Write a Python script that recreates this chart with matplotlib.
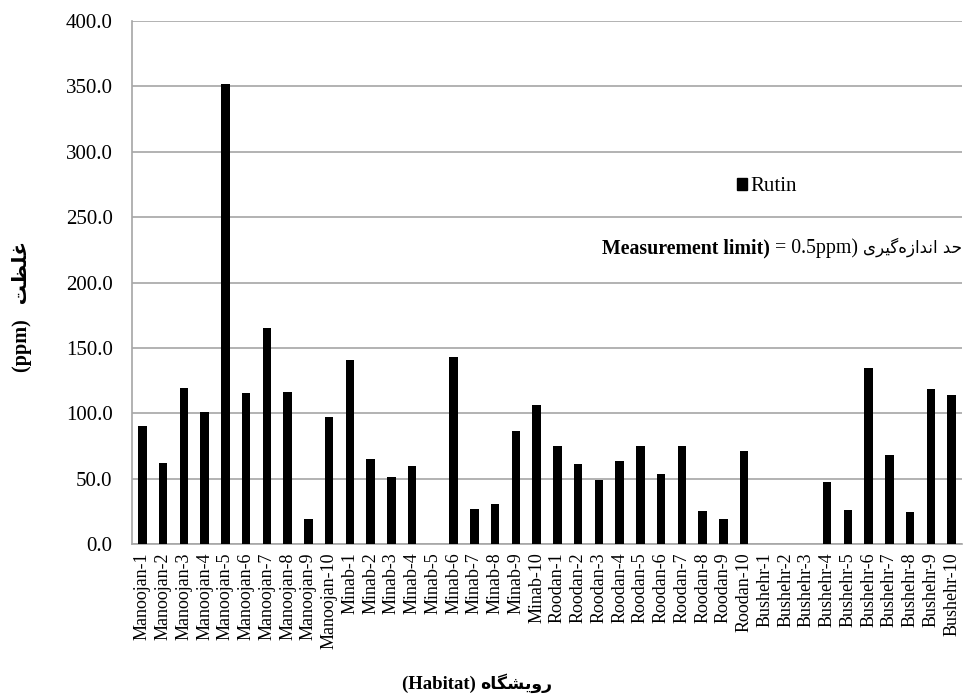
import matplotlib
matplotlib.use('Agg')
import matplotlib.pyplot as plt
from matplotlib.patches import Patch
from matplotlib.offsetbox import TextArea, HPacker, AnnotationBbox

plt.rcParams['font.family'] = ['Liberation Serif', 'DejaVu Sans']

# ── Данные ────────────────────────────────────────────────────────────────────
sites = (['Manoojan-%d' % i for i in range(1, 11)] +
         ['Minab-%d' % i for i in range(1, 11)] +
         ['Roodan-%d' % i for i in range(1, 11)] +
         ['Bushehr-%d' % i for i in range(1, 11)])

rutin = [90.5, 62.2, 119.5, 100.8, 352.0, 115.3, 165.2, 116.4, 19.0, 97.0,
         141.0, 65.3, 51.0, 59.8, 0.0, 142.8, 26.8, 30.6, 86.2, 106.4,
         74.6, 61.5, 49.3, 63.6, 74.6, 53.7, 75.3, 25.1, 19.5, 71.0,
         0.0, 0.0, 0.0, 47.1, 26.0, 134.8, 68.4, 24.3, 118.9, 113.8]

yticks = [0, 50, 100, 150, 200, 250, 300, 350, 400]

# Persian strings, pre-shaped (presentation forms) in visual order
fa_conc = '\uFE96\uFEC8\uFEE0\uFECF'                       # غلظت
fa_habitat = '\uFEE9\uFE8E\uFB95\uFEB8\uFEF3\uFEED\uFEAD'  # رویشگاه
fa_limit = ('\uFEEF\uFEAE\uFEF4\uFB94\uFEE9\uFEAF\uFE8D\uFEAA\uFEE7\uFE8D'
            ' \uFEAA\uFEA3')                               # حد اندازه‌گیری

# ── График ────────────────────────────────────────────────────────────────────
fig = plt.figure(figsize=(9.7, 6.95), dpi=100)
ax = fig.add_axes([132 / 970, 1 - 544 / 695, 830 / 970, 523 / 695])

x = list(range(len(sites)))
ax.bar(x, rutin, width=0.4, color='black', zorder=3)

ax.set_xlim(-0.5, len(sites) - 0.5)
ax.set_ylim(0, 400)
ax.set_yticks(yticks)
ax.set_yticklabels(['%.1f' % v for v in yticks], fontsize=15)
ax.set_xticks(x)
ax.set_xticklabels(sites, rotation=90, fontsize=13)
ax.tick_params(axis='x', length=0, pad=6)
ax.tick_params(axis='y', length=0, pad=14)
ax.grid(axis='y', color='#a6a6a6', lw=1.2, zorder=0)
for s in ['top', 'right']:
    ax.spines[s].set_visible(False)
for s in ['left', 'bottom']:
    ax.spines[s].set_color('#a6a6a6')
    ax.spines[s].set_linewidth(1.2)

ax.legend(handles=[Patch(color='black', label='Rutin')],
          loc='center left', bbox_to_anchor=(0.729, 0.683),
          frameon=False, fontsize=15, handlelength=0.5, handleheight=0.5,
          handletextpad=0.15, borderaxespad=0, borderpad=0)

# Measurement limit text
parts = HPacker(children=[
    TextArea('Measurement limit)', textprops=dict(fontsize=14.3, fontweight='bold')),
    TextArea(' = 0.5ppm) ', textprops=dict(fontsize=14.3)),
    TextArea(fa_limit, textprops=dict(fontsize=12, family='DejaVu Sans')),
], align='baseline', pad=0, sep=0)
fig.add_artist(AnnotationBbox(parts, (962 / 970, 1 - 248 / 695),
                              xycoords='figure fraction',
                              box_alignment=(1, 0.5), frameon=False))

# axis labels
fig.text(22 / 970, 1 - 306 / 695, '(ppm)   ' + fa_conc, rotation=90,
         ha='center', va='center', fontsize=14.5, fontweight='bold')
xl = HPacker(children=[
    TextArea('(Habitat) ', textprops=dict(fontsize=13.5, fontweight='bold')),
    TextArea(fa_habitat, textprops=dict(fontsize=12.5, family='DejaVu Sans',
                                        fontweight='bold')),
], align='baseline', pad=0, sep=0)
fig.add_artist(AnnotationBbox(xl, (477 / 970, 1 - 683 / 695),
                              xycoords='figure fraction',
                              box_alignment=(0.5, 0.5), frameon=False))

plt.savefig('out.png', dpi=100)
